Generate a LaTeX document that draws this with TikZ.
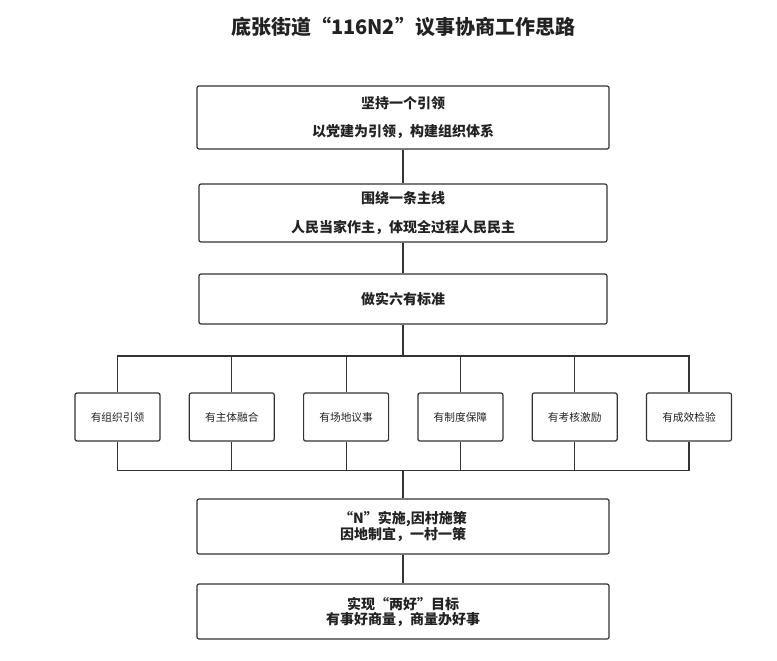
\documentclass[tikz,border=0pt]{standalone}
\usepackage{fontspec}
\setmainfont{Noto Sans CJK SC}
\definecolor{linegray}{HTML}{333333}
\definecolor{textgray}{HTML}{222222}

\begin{document}
\begin{tikzpicture}[x=1pt,y=-1pt,
  box/.style={draw=linegray,line width=1.2pt,rounded corners=2pt,align=center,inner sep=0pt,text=textgray},
  mainbox/.style={box,minimum width=412pt,font=\fontsize{14}{15}\selectfont\bfseries},
  itembox/.style={box,minimum width=85pt,minimum height=48pt,font=\fontsize{10.7}{12}\selectfont},
  link/.style={draw=linegray,line width=1.2pt}]
\useasboundingbox (0,0) rectangle (777,661);
\node (title) at (403,27) {\fontsize{20}{22}\selectfont\bfseries\color{textgray}底张街道“116N2”议事协商工作思路};
\node [mainbox,minimum height=63pt] (lead)  at (403,117.5) {坚持一个引领\\[13pt]以党建为引领，构建组织体系};
\node [mainbox,minimum height=58pt,minimum width=408pt] (line)  at (403,213) {围绕一条主线\\[14pt]人民当家作主，体现全过程人民民主};
\node [mainbox,minimum height=50pt,minimum width=408pt] (six)   at (403,299) {做实六有标准};
\coordinate (topbar) at (403,356);
\coordinate (botbar) at (403,470.5);
\node [itembox] (s1) at (117.5,417) {有组织引领};
\node [itembox] (s2) at (231.8,417) {有主体融合};
\node [itembox] (s3) at (346.1,417) {有场地议事};
\node [itembox] (s4) at (460.4,417) {有制度保障};
\node [itembox] (s5) at (574.7,417) {有考核激励};
\node [itembox] (s6) at (689,417) {有成效检验};
\node [mainbox,minimum height=55pt] (plan) at (403,526.5) {“N”实施,因村施策\\因地制宜，一村一策};
\node [mainbox,minimum height=55pt] (goal) at (403,611.5) {实现“两好”目标\\有事好商量，商量办好事};
\draw [link] (lead) -- (line);
\draw [link] (line) -- (six);
\draw [link] (six) -- (topbar);
\draw [link] (s1.north) |- (topbar) -| (s6.north);
\draw [link] (s2.north) -- (s2.north |- topbar);
\draw [link] (s3.north) -- (s3.north |- topbar);
\draw [link] (s4.north) -- (s4.north |- topbar);
\draw [link] (s5.north) -- (s5.north |- topbar);
\draw [link] (s1.south) |- (botbar) -| (s6.south);
\draw [link] (s2.south) -- (s2.south |- botbar);
\draw [link] (s3.south) -- (s3.south |- botbar);
\draw [link] (s4.south) -- (s4.south |- botbar);
\draw [link] (s5.south) -- (s5.south |- botbar);
\draw [link] (botbar) -- (plan);
\draw [link] (plan) -- (goal);
\end{tikzpicture}
\end{document}
